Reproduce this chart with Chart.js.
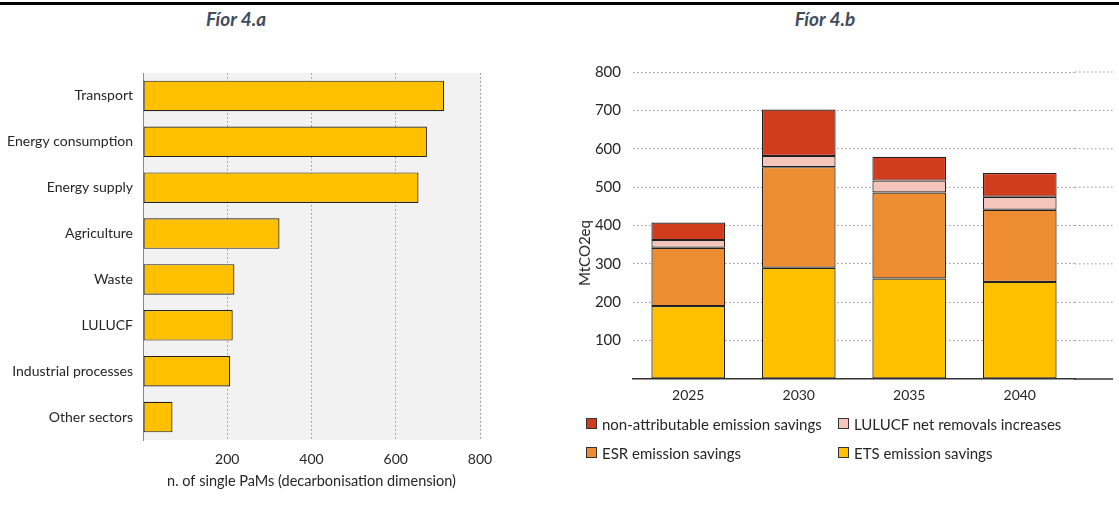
<!DOCTYPE html>
<html><head><meta charset="utf-8">
<script src="https://cdn.jsdelivr.net/npm/chart.js@4.4.1/dist/chart.umd.min.js"></script>
<style>
html,body{margin:0;padding:0;background:#fff;width:1119px;height:505px;overflow:hidden;position:relative;font-family:Lato,sans-serif;}
#topline{position:absolute;left:0;top:2px;width:1119px;height:2.5px;background:#000;}
.ttl{position:absolute;top:7px;font:italic bold 19px Lato;color:#3F4B5E;transform:translateX(-50%);white-space:nowrap;}
#ca{position:absolute;left:0;top:0;}
#cb{position:absolute;left:560px;top:0;}
#ytitle{position:absolute;left:584px;top:253px;transform:translate(-50%,-50%) rotate(-90deg);font:15px Lato;color:#262626;white-space:nowrap;}
#legend{position:absolute;left:586px;top:409px;display:grid;grid-template-columns:252px auto;grid-auto-rows:29px;}
.li{display:flex;align-items:center;font:15px Lato;color:#262626;white-space:nowrap;}
.sw{width:9px;height:9px;border:1px solid #333;margin-right:5px;flex:none;}
</style></head>
<body>
<div id="topline"></div>
<div class="ttl" id="ta" style="left:236px">Fíor 4.a</div>
<div class="ttl" id="tb" style="left:825px">Fíor 4.b</div>
<canvas id="ca" width="560" height="505"></canvas>
<canvas id="cb" width="559" height="505"></canvas>
<div id="ytitle">MtCO2eq</div>
<div id="legend"></div>
<script>
// ---- Data: Figure 4.a ----
const sectors = ['Transport','Energy consumption','Energy supply','Agriculture','Waste','LULUCF','Industrial processes','Other sectors'];
const pamCounts = [715, 674, 654, 324, 217, 213, 207, 70];
const pamTicks = [0, 200, 400, 600, 800];
const pamAxisTitle = 'n. of single PaMs (decarbonisation dimension)';

// ---- Data: Figure 4.b ----
const years = ['2025','2030','2035','2040'];
const etsSavings = [190, 290, 262, 253];
const esrSavings = [152, 262, 224, 188];
const lulucfRemovals = [20, 29, 31, 34];
const nonAttributable = [46, 121, 62, 62];
const savingsTicks = [0, 100, 200, 300, 400, 500, 600, 700, 800];
const seriesLabels = ['ETS emission savings','ESR emission savings','LULUCF net removals increases','non-attributable emission savings'];
const seriesColors = ['#FFC000','#ED8C30','#F5C4BA','#D13B1E'];
const legendOrder = [3, 2, 1, 0];

const TXT = '#262626';
const GRID = '#999999';
const DASH = [1.5, 2.5];
const EDGE = '#222222';

const bgPlugin = {
  id: 'plotBg',
  beforeDraw(chart) {
    const a = chart.chartArea, c = chart.ctx;
    c.save(); c.fillStyle = '#F2F2F2';
    c.fillRect(a.left, a.top, a.right - a.left + 2, a.bottom - a.top);
    c.restore();
  }
};

new Chart(document.getElementById('ca'), {
  type: 'bar',
  data: { labels: sectors, datasets: [{ data: pamCounts, backgroundColor: '#FFC000', borderColor: EDGE, borderWidth: 1.2, borderSkipped: false, categoryPercentage: 1, barPercentage: 0.667 }] },
  options: {
    indexAxis: 'y', responsive: false, animation: false,
    layout: { padding: { top: 73, right: 80, left: 0, bottom: 0 } },
    plugins: { legend: { display: false }, tooltip: { enabled: false } },
    scales: {
      y: {
        afterFit(s) { s.width = 143; },
        grid: { display: false, drawTicks: false },
        border: { display: true, color: '#8C8C8C', width: 1 },
        ticks: { color: TXT, font: { family: 'Lato', size: 14 }, padding: 10 }
      },
      x: {
        min: 0, max: 800,
        afterFit(s) { s.height = 65; },
        afterBuildTicks(s) { s.ticks = pamTicks.map(v => ({ value: v })); },
        grid: { color: (ctx) => ctx.tick && ctx.tick.value === 0 ? 'rgba(0,0,0,0)' : GRID, drawTicks: false },
        border: { display: false, dash: DASH },
        ticks: { color: TXT, font: { family: 'Lato', size: 14 }, padding: 11, callback: v => v === 0 ? '' : v },
        title: { display: true, text: pamAxisTitle, color: TXT, font: { family: 'Lato', size: 14.5 }, padding: { top: 0, bottom: 15 } }
      }
    }
  },
  plugins: [bgPlugin]
});

const extPlugin = {
  id: 'extendGrid',
  beforeDatasetsDraw(chart) {
    const a = chart.chartArea, c = chart.ctx, ys = chart.scales.y;
    const end = 553;
    c.save();
    c.strokeStyle = GRID; c.lineWidth = 1; c.setLineDash(DASH);
    ys.ticks.forEach(t => {
      if (t.value === 0) return;
      const y = ys.getPixelForValue(t.value);
      c.beginPath(); c.moveTo(a.right, y); c.lineTo(end, y); c.stroke();
    });
    c.setLineDash([]); c.strokeStyle = '#333'; c.lineWidth = 1.5;
    const yb = ys.getPixelForValue(0);
    c.beginPath(); c.moveTo(a.right - 1, yb); c.lineTo(end, yb); c.stroke();
    c.restore();
  }
};

const dsB = [etsSavings, esrSavings, lulucfRemovals, nonAttributable].map((d, i) => ({
  label: seriesLabels[i], data: d, backgroundColor: seriesColors[i], borderColor: EDGE, borderWidth: 1.2, borderSkipped: false,
  categoryPercentage: 1, barPercentage: 0.667
}));

new Chart(document.getElementById('cb'), {
  type: 'bar',
  data: { labels: years, datasets: dsB },
  options: {
    responsive: false, animation: false,
    layout: { padding: { top: 72, right: 44, left: 0, bottom: 0 } },
    plugins: { legend: { display: false }, tooltip: { enabled: false } },
    scales: {
      x: {
        stacked: true,
        afterFit(s) { s.height = 126; },
        grid: { display: false, drawTicks: false },
        border: { display: true, color: '#333', width: 1.5 },
        ticks: { color: TXT, font: { family: 'Lato', size: 14 }, padding: 8 }
      },
      y: {
        stacked: true, min: 0, max: 800,
        afterFit(s) { s.width = 73; },
        afterBuildTicks(s) { s.ticks = savingsTicks.map(v => ({ value: v })); },
        grid: { color: (ctx) => ctx.tick && ctx.tick.value === 0 ? 'rgba(0,0,0,0)' : GRID, drawTicks: false },
        border: { display: false, dash: DASH },
        ticks: { color: TXT, font: { family: 'Lato', size: 15 }, padding: 12, callback: v => v === 0 ? '' : v }
      }
    }
  },
  plugins: [extPlugin]
});

const lg = document.getElementById('legend');
legendOrder.forEach(i => {
  const d = document.createElement('div'); d.className = 'li';
  const s = document.createElement('span'); s.className = 'sw'; s.style.background = seriesColors[i];
  d.appendChild(s); d.appendChild(document.createTextNode(seriesLabels[i]));
  lg.appendChild(d);
});
</script>
</body></html>
